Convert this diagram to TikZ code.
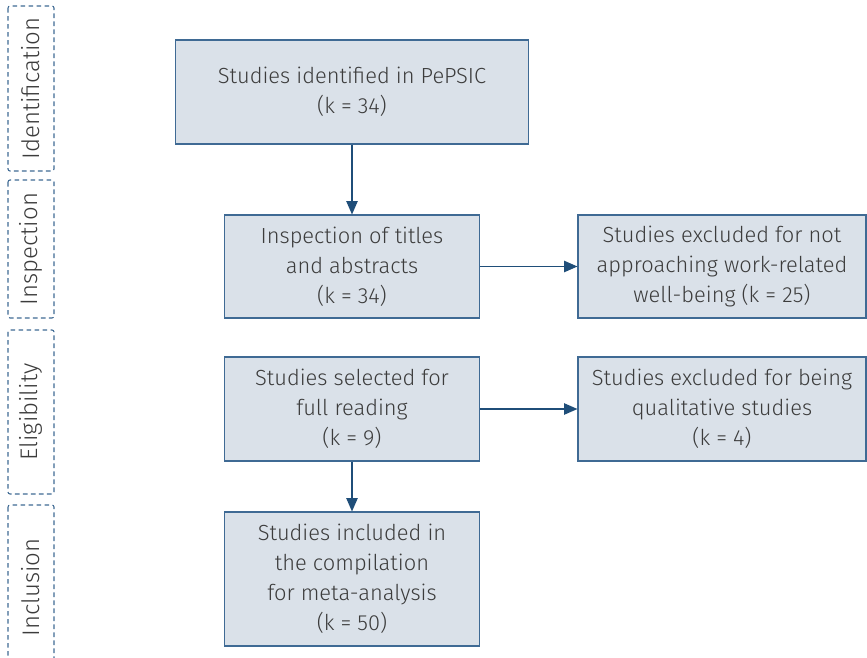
\documentclass[tikz,border=0pt]{standalone}
\usepackage{fontspec}
\setmainfont{Fira Sans Light}
\usetikzlibrary{arrows.meta, positioning}
\definecolor{boxfill}{HTML}{DAE1E9}
\definecolor{boxline}{HTML}{3F6A94}
\definecolor{arrowblue}{HTML}{1F4E79}
\definecolor{textgray}{HTML}{3C3C3C}
\tikzset{
>={Triangle[length=10pt,width=8.5pt]}, % filled triangular heads
stage/.style={draw=boxline, fill=boxfill, line width=0.8pt, align=center,
  text=textgray, inner sep=2pt, font=\fontsize{16.4}{22.5}\selectfont},
phase/.style={draw=boxline, line width=0.8pt, dash pattern=on 3.5pt off 2.5pt,
  rounded corners=1.5pt, rotate=90, minimum height=34.5pt, text=textgray,
  font=\fontsize{18}{20}\selectfont},
link/.style={->, draw=arrowblue, line width=0.9pt},
}
\begin{document}
\begin{tikzpicture}[x=0.75pt, y=-0.75pt]
  \useasboundingbox (0,0) rectangle (867,657);
  % phases on the left
  \node[phase, minimum width=123.75pt] (identification) at (31,88.5) {Identification};
  \node[phase, minimum width=103.5pt] (inspection) at (31,249) {Inspection};
  \node[phase, minimum width=123pt] (eligibility) at (31,412) {Eligibility};
  \node[phase, minimum width=123.75pt] (inclusion) at (31,587.5) {Inclusion};
  % flow boxes
  \node[stage, minimum width=264.75pt, minimum height=78pt] (identified) at (352,92)
    {Studies identified in PePSIC\\(k = 34)};
  \node[stage, minimum width=191.25pt, minimum height=77.25pt] (titles) at (352,266.5)
    {Inspection of titles\\and abstracts\\(k = 34)};
  \node[stage, minimum width=216pt, minimum height=77.25pt] (notwork) at (722,266.5)
    {Studies excluded for not\\approaching work-related\\well-being (k = 25)};
  \node[stage, minimum width=191.25pt, minimum height=78pt] (fullread) at (352,409)
    {Studies selected for\\full reading\\(k = 9)};
  \node[stage, minimum width=216pt, minimum height=78pt] (qualit) at (722,409)
    {Studies excluded for being\\qualitative studies\\(k = 4)};
  \node[stage, minimum width=191.25pt, minimum height=100.5pt] (included) at (352,579)
    {Studies included in\\the compilation\\for meta-analysis\\(k = 50)};
  % arrows
  \draw[link] (identified) -- (titles);
  \draw[link] (titles) -- (notwork);
  \draw[link] (fullread) -- (qualit);
  \draw[link] (fullread) -- (included);
\end{tikzpicture}
\end{document}
